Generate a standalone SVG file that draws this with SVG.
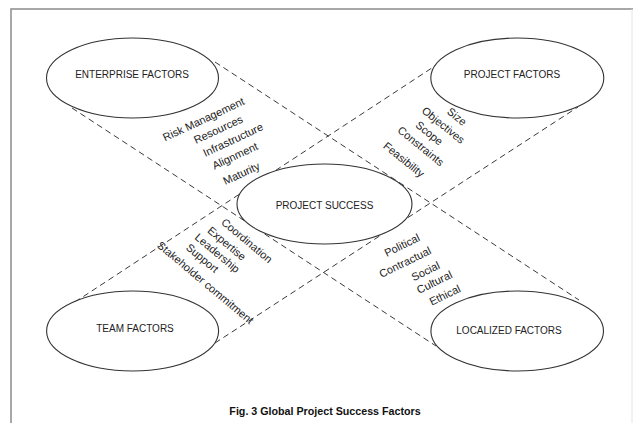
<svg xmlns="http://www.w3.org/2000/svg" width="635" height="423" viewBox="0 0 635 423">
<style>
.frame{fill:none;stroke:#8c8c8c;stroke-width:1.5}
.dash{fill:none;stroke:#3a3a3a;stroke-width:1;stroke-dasharray:6 4}
.node ellipse{fill:#fff;stroke:#333;stroke-width:1.1}
.nt{font-family:"Liberation Sans",Arial,sans-serif;font-size:10px;fill:#222;text-anchor:middle}
.lb{font-family:"Liberation Sans",Arial,sans-serif;font-size:11px;fill:#222;text-anchor:middle}
.cap{font-family:"Liberation Sans",Arial,sans-serif;font-size:10.7px;font-weight:bold;fill:#111;text-anchor:middle}
</style>
<rect width="635" height="423" fill="#fff"/>
<path class="frame" d="M11,423 V9 H633"/>
<path d="M632,9 V423" stroke="#e4e4e4" stroke-width="1" fill="none"/>
<g id="connectors">
<line class="dash" x1="215" y1="62" x2="579" y2="300"/>
<line class="dash" x1="72" y1="108" x2="436" y2="346"/>
<line class="dash" x1="75" y1="302" x2="441" y2="62"/>
<line class="dash" x1="215" y1="343" x2="578" y2="107"/>
</g>
<g id="enterprise" class="node">
<ellipse cx="132.5" cy="78" rx="86" ry="40"/>
<text class="nt" x="132" y="77.6">ENTERPRISE FACTORS</text>
</g>
<g id="project-factors" class="node">
<ellipse cx="517.3" cy="78" rx="86.5" ry="40"/>
<text class="nt" x="512" y="77.6">PROJECT FACTORS</text>
</g>
<g id="project-success" class="node">
<ellipse cx="324.5" cy="204" rx="87.5" ry="40"/>
<text class="nt" x="324.5" y="208.6">PROJECT SUCCESS</text>
</g>
<g id="team" class="node">
<ellipse cx="132.6" cy="331" rx="86" ry="40"/>
<text class="nt" x="135" y="331.6">TEAM FACTORS</text>
</g>
<g id="localized" class="node">
<ellipse cx="517.2" cy="331" rx="86.3" ry="40"/>
<text class="nt" x="509" y="333.6">LOCALIZED FACTORS</text>
</g>
<g id="enterprise-labels">
<text class="lb" transform="translate(203.5,119.1) rotate(-25)" y="4">Risk Management</text>
<text class="lb" transform="translate(218.2,129.3) rotate(-25)" y="4">Resources</text>
<text class="lb" transform="translate(232.9,139.6) rotate(-25)" y="4">Infrastructure</text>
<text class="lb" transform="translate(234.9,155.7) rotate(-25)" y="4">Alignment</text>
<text class="lb" transform="translate(241.4,173.2) rotate(-25)" y="4">Maturity</text>
</g>
<g id="project-labels">
<text class="lb" transform="translate(457,116.5) rotate(39)" y="4">Size</text>
<text class="lb" transform="translate(443.4,125) rotate(39)" y="4">Objectives</text>
<text class="lb" transform="translate(429.5,133) rotate(39)" y="4">Scope</text>
<text class="lb" transform="translate(421,146) rotate(39)" y="4">Constraints</text>
<text class="lb" transform="translate(404,159.5) rotate(39)" y="4">Feasibility</text>
</g>
<g id="team-labels">
<text class="lb" transform="translate(247,240.5) rotate(40)" y="4">Coordination</text>
<text class="lb" transform="translate(227,243.5) rotate(40)" y="4">Expertise</text>
<text class="lb" transform="translate(217.5,253) rotate(40)" y="4">Leadership</text>
<text class="lb" transform="translate(202.5,258) rotate(40)" y="4">Support</text>
<text class="lb" transform="translate(205.5,282.5) rotate(40)" y="4">Stakeholder commitment</text>
</g>
<g id="localized-labels">
<text class="lb" transform="translate(402,245) rotate(-26)" y="4">Political</text>
<text class="lb" transform="translate(405,262) rotate(-26)" y="4">Contractual</text>
<text class="lb" transform="translate(425.5,271) rotate(-26)" y="4">Social</text>
<text class="lb" transform="translate(434.3,282) rotate(-26)" y="4">Cultural</text>
<text class="lb" transform="translate(444.8,295) rotate(-26)" y="4">Ethical</text>
</g>
<text class="cap" x="325" y="414.5">Fig. 3 Global Project Success Factors</text>
</svg>
